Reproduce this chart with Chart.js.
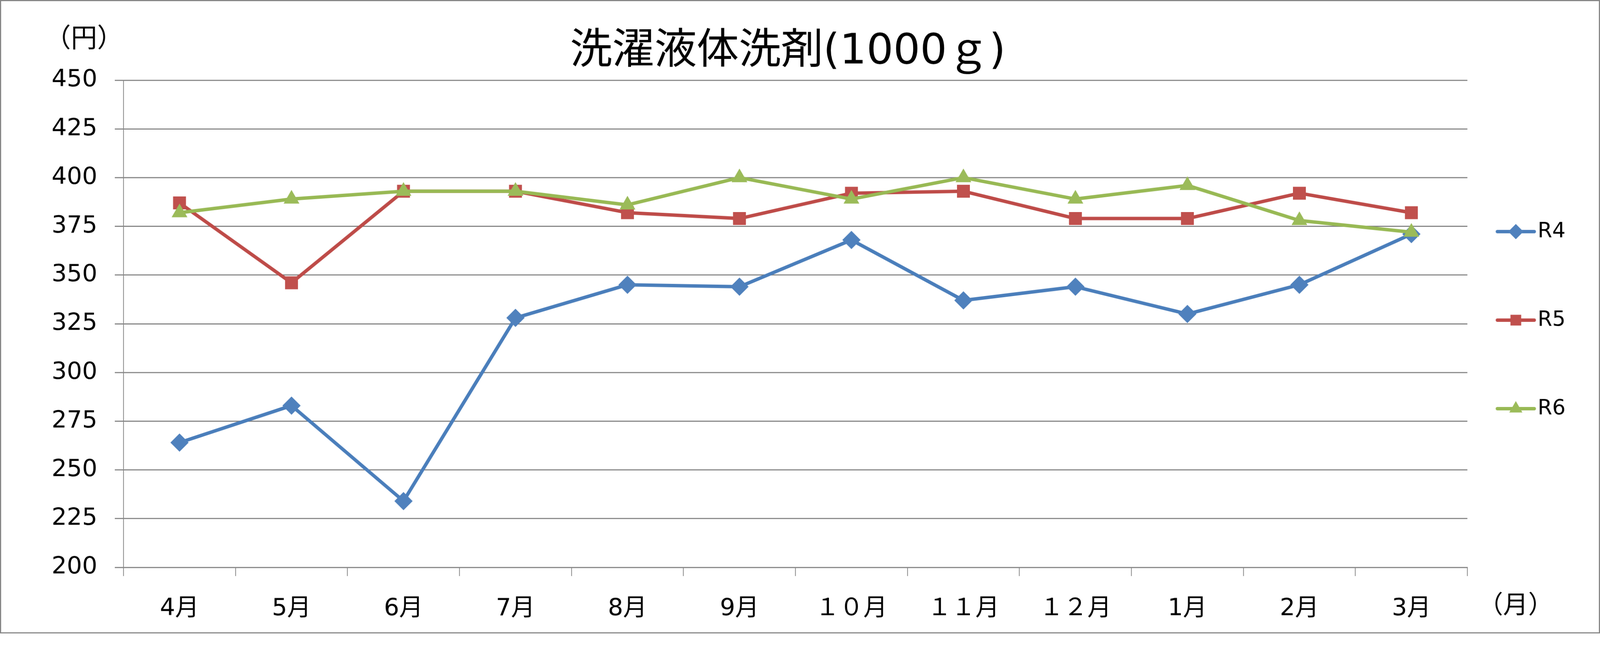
<!DOCTYPE html>
<html>
<head>
<meta charset="utf-8">
<script src="https://cdn.jsdelivr.net/npm/chart.js@4"></script>
<style>
  html, body { margin: 0; padding: 0; background: #fff; overflow: hidden; }
  /* draw at 4210x1667 and fit the window, whatever its real size */
  #priceChart {
    display: block;
    width: min(100vw, calc(100vh * 4210 / 1667)) !important;
    height: auto !important;
  }
</style>
</head>
<body>
<canvas id="priceChart" width="4210" height="1667"></canvas>
<script>
// data
const months = ['4月', '5月', '6月', '7月', '8月', '9月', '１０月', '１１月', '１２月', '1月', '2月', '3月'];
const seriesNames = ['R4', 'R5', 'R6'];
const r4Values = [264, 283, 234, 328, 345, 344, 368, 337, 344, 330, 345, 371];
const r5Values = [387, 346, 393, 393, 382, 379, 392, 393, 379, 379, 392, 382];
const r6Values = [382, 389, 393, 393, 386, 400, 389, 400, 389, 396, 378, 372];
const yMin = 200, yMax = 450, yStep = 25;

const chartTitle = '洗濯液体洗剤(1000ｇ)';
const yUnit = '（円）';
const xUnit = '（月）';

const FONT = "'DejaVu Sans', 'Noto Sans CJK JP', sans-serif";
const GRID = '#878787';

// title, unit labels, legend and outer border
const decorations = {
    id: 'decorations',
    beforeDraw(chart) {
        const ctx = chart.ctx;
        ctx.save();
        ctx.fillStyle = '#fff';
        ctx.fillRect(0, 0, chart.width, chart.height);
        ctx.restore();
    },
    afterDraw(chart) {
        const ctx = chart.ctx;
        const area = chart.chartArea;
        ctx.save();

        // title
        ctx.fillStyle = '#000';
        ctx.textAlign = 'center';
        ctx.textBaseline = 'middle';
        ctx.font = '111px ' + FONT;
        ctx.fillText(chartTitle, (area.left + area.right) / 2 - 20, 138);

        // unit labels
        ctx.font = '69px ' + FONT;
        ctx.fillText(yUnit, 221, 106);
        ctx.font = '66px ' + FONT;
        ctx.fillText(xUnit, area.right + 127, 1597);

        // legend
        chart.data.datasets.forEach((ds, i) => {
            const y = chart.height / 2 - 233 + i * 233 + 9;
            const x0 = area.right + 79;
            const x1 = area.right + 176;
            ctx.strokeStyle = ds.borderColor;
            ctx.lineWidth = 9;
            ctx.lineCap = 'round';
            ctx.beginPath();
            ctx.moveTo(x0, y);
            ctx.lineTo(x1, y);
            ctx.stroke();
            ctx.fillStyle = ds.pointBackgroundColor;
            Chart.helpers.drawPoint(ctx, { pointStyle: ds.pointStyle, rotation: 0, borderWidth: 0, radius: 20 }, (x0 + x1) / 2, y);
            ctx.fillStyle = '#000';
            ctx.textAlign = 'left';
            ctx.font = '55px ' + FONT;
            ctx.fillText(ds.label, x1 + 9, y);
        });

        // outer frame
        ctx.strokeStyle = '#868686';
        ctx.lineWidth = 3;
        ctx.strokeRect(1.5, 1.5, chart.width - 3, chart.height - 3);
        ctx.restore();
    }
};

function makeSeries(label, values, lineColor, markerColor, style, order) {
    return {
        label: label,
        data: values,
        borderColor: lineColor,
        backgroundColor: markerColor,
        pointBackgroundColor: markerColor,
        pointBorderColor: markerColor,
        pointBorderWidth: 0,
        pointStyle: style,
        pointRadius: 24,
        borderWidth: 9,
        borderJoinStyle: 'round',
        borderCapStyle: 'round',
        tension: 0,
        fill: false,
        order: order
    };
}

const ctx = document.getElementById('priceChart').getContext('2d');
new Chart(ctx, {
    type: 'line',
    data: {
        labels: months,
        datasets: [
            makeSeries(seriesNames[0], r4Values, '#4A7EBB', '#4F81BD', 'rectRot', 2),
            makeSeries(seriesNames[1], r5Values, '#BE4B48', '#C0504D', 'rect', 1),
            makeSeries(seriesNames[2], r6Values, '#98B954', '#9BBB59', 'triangle', 0)
        ]
    },
    options: {
        responsive: false,
        animation: false,
        devicePixelRatio: 1,
        layout: {
            padding: { top: 211, right: 349, bottom: 0, left: 0 }
        },
        plugins: {
            legend: { display: false },
            title: { display: false },
            tooltip: { enabled: false }
        },
        scales: {
            x: {
                offset: true,
                afterFit(scale) { scale.height = 174; },
                grid: {
                    offset: true,
                    drawOnChartArea: false,
                    drawTicks: true,
                    tickLength: 23,
                    color: GRID,
                    lineWidth: 2
                },
                border: { display: true, color: GRID, width: 3 },
                ticks: {
                    color: '#000',
                    font: { family: FONT, size: 63 },
                    padding: 49,
                    maxRotation: 0,
                    autoSkip: false
                }
            },
            y: {
                min: yMin,
                max: yMax,
                afterFit(scale) { scale.width = 325; },
                grid: {
                    color: GRID,
                    lineWidth: 3,
                    drawTicks: true,
                    tickLength: 23
                },
                border: { display: true, color: GRID, width: 2 },
                ticks: {
                    stepSize: yStep,
                    color: '#000',
                    font: { family: FONT, size: 63 },
                    padding: 46
                }
            }
        }
    },
    plugins: [decorations]
});
</script>
</body>
</html>
